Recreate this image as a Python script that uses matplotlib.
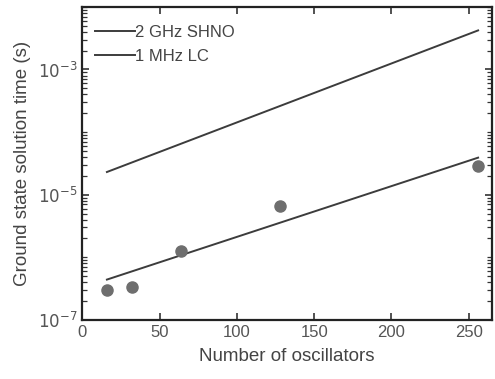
import numpy as np
import matplotlib
matplotlib.use("Agg")
import matplotlib.pyplot as plt
from matplotlib.ticker import LogLocator, FixedLocator, NullFormatter

plt.rcParams['font.family'] = ['Liberation Sans', 'DejaVu Sans']

# measured points (SHNO)
n_osc = [16, 32, 64, 128, 256]
t_meas = [3.0e-7, 3.4e-7, 1.26e-6, 6.5e-6, 2.9e-5]

# scaling lines
fit_n = [16, 256]
t_shno = [4.4e-7, 3.9e-5]
t_lc = [2.3e-5, 4.2e-3]

fig = plt.figure(figsize=(4.95, 3.79), dpi=100)
ax = fig.add_axes([0.166, 0.156, 0.828, 0.826])

line_col = "#3c3c3c"
ax.plot(fit_n, t_shno, color=line_col, lw=1.4, label="2 GHz SHNO")
ax.plot(fit_n, t_lc, color=line_col, lw=1.4, label="1 MHz LC")
ax.plot(n_osc, t_meas, "o", color="#6e6e6e", ms=8, mec="#6e6e6e")

ax.set_yscale("log")
ax.set_xlim(0, 265)
ax.set_ylim(1e-7, 1e-2)
ax.set_xticks([0, 50, 100, 150, 200, 250])
ax.yaxis.set_major_locator(FixedLocator([1e-7, 1e-5, 1e-3]))
ax.yaxis.set_minor_locator(LogLocator(base=10, subs=np.arange(1, 10), numticks=50))
ax.yaxis.set_minor_formatter(NullFormatter())
ax.set_yticklabels([r"$10^{-7}$", r"$10^{-5}$", r"$10^{-3}$"])

ax.tick_params(which="both", direction="in", top=True, right=True,
               labelsize=12, colors="#333333", labelcolor="#555555")
ax.tick_params(which="major", length=5, width=1.2)
ax.tick_params(which="minor", length=3.5, width=0.9)
for s in ax.spines.values():
    s.set_linewidth(1.6)
    s.set_color("#222222")

ax.set_xlabel("Number of oscillators", fontsize=13.5, color="#444444", labelpad=6)
ax.set_ylabel("Ground state solution time (s)", fontsize=13.5, color="#444444", labelpad=5)

leg = ax.legend(loc="upper left", bbox_to_anchor=(-0.014, 1.0), frameon=False,
                fontsize=12, handlelength=2.4, handletextpad=0.0,
                borderaxespad=0.7, labelspacing=0.55, labelcolor="#444444")

fig.savefig("out.png", dpi=100)
